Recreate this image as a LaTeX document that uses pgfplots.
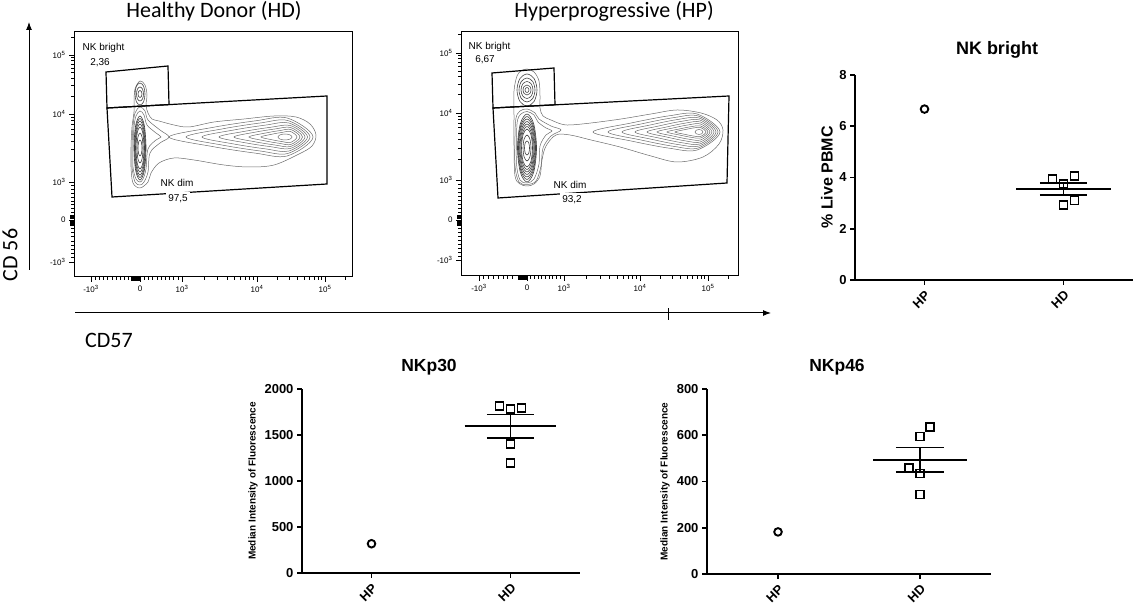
\documentclass[border=0pt]{standalone}
\usepackage{fontspec}
\setmainfont{Liberation Sans}
\newfontfamily\calibri{Carlito}
\usepackage{pgfplots}
\pgfplotsset{compat=1.18}
\usetikzlibrary{arrows.meta}

\tikzset{lab/.style={font=\fontsize{10}{12}\selectfont, inner sep=1.5pt}}
\pgfplotsset{
  flow/.style={scale only axis, enlargelimits=false, axis line style={line width=1pt},
    tick align=outside, xtick pos=bottom, ytick pos=left,
    major tick length=5pt, minor tick length=3pt,
    every tick/.style={black, line width=0.9pt},
    tick label style={font=\fontsize{8}{9.6}\selectfont},
    xticklabels={-10\textsuperscript{3},0,10\textsuperscript{3},10\textsuperscript{4},10\textsuperscript{5}},
    yticklabels={-10\textsuperscript{3},0,10\textsuperscript{3},10\textsuperscript{4},10\textsuperscript{5}},
    extra tick style={major tick length=4pt, tick style={line width=1.4pt}},
    extra x tick labels={,,,,,}, extra y tick labels={,,,,,},
    clip=true},
  cont/.style={smooth cycle, tension=0.55, draw=black!58, line width=0.5pt, no marks},
  contd/.style={smooth cycle, tension=0.55, draw=black!75, line width=0.6pt, no marks},
  gate/.style={draw=black, line width=1.2pt, no marks, line join=miter},
  scat/.style={scale only axis, enlargelimits=false, axis lines*=left,
    axis line style={line width=1.6pt}, tick align=outside, major tick length=5pt,
    every tick/.style={black, line width=1.6pt},
    xmin=-0.5, xmax=1.5, xtick={0,1}, xticklabels={HP,HD},
    xticklabel style={rotate=45, anchor=north east, font=\bfseries\fontsize{13}{15}\selectfont},
    yticklabel style={font=\bfseries\fontsize{13}{15}\selectfont},
    clip=false},
  ptc/.style={only marks, mark=o, mark size=3.8pt, line width=1.9pt, black},
  sqm/.style={only marks, mark=square, mark size=4pt, line width=1.7pt, black},
  mnl/.style={no marks, line width=1.8pt, black},
}

\begin{document}
\begin{tikzpicture}
\path[use as bounding box] (0pt,0pt) rectangle (1139pt,609pt);

% ---------------- Healthy Donor flow plot ----------------
\begin{axis}[flow, at={(74pt,332pt)}, anchor=south west, width=278pt, height=245pt,
  xmin=0, xmax=278, ymin=0, ymax=245,
  xtick={17,66,108,183,251},
  minor xtick={21,25,29,33,38,42,46,50,54,70,74,78,83,87,91,95,99,104,130.6,143.8,153.2,160.4,166.4,171.4,175.7,179.6,203.5,215.4,223.9,230.5,235.9,240.5,244.4,247.9,271.5},
  ytick={15,57,95,163,222},
  minor ytick={19.2,23.4,27.6,31.8,36,40.2,44.4,48.6,60.8,64.6,68.4,72.2,76,79.8,83.6,87.4,91.2,115.5,127.4,135.9,142.5,147.9,152.5,156.4,159.9,180.8,191.2,198.5,204.2,208.9,212.9,216.3,219.3,239.8},
  extra x ticks={57.5,59,60.5,62,63.5,65}, extra y ticks={52,53.5,55,58.5,60,61.5}]
% outer contour
\addplot[cont] coordinates {(66,196)(71,192)(73,182)(72,172)(74,164)(78,158)(85,156)(100,152)(115,150)(140,155)(170,158)(200,161)(222,160)(236,153)(242,142)(238,131)(225,123)(200,112)(175,110)(150,112)(120,117)(100,119)(85,114)(77,104)(74,95)(66,89)(59,94)(57,110)(57,130)(58,150)(60,165)(60,175)(61,188)};
\addplot[cont] coordinates {(66,170)(71,166)(74,157)(86,147)(95,140)(86,134)(76,124)(74,105)(70,95)(66,92)(61,95)(58,110)(58,130)(59,150)(61,164)};
\addplot[cont] coordinates {(66,166)(70,162)(73,152)(82,144)(87,140)(82,137)(74,128)(72,108)(69,98)(66,95)(62,98)(59,110)(59,130)(60,150)(62,161)};
% column
\addplot[contd] coordinates {(72,129)(70.3,151.7)(66,161)(61.7,151.7)(60,129)(61.7,106.3)(66,97)(70.3,106.3)};
\addplot[contd] coordinates {(71.5,129)(70,150)(66,158.5)(62,150)(60.5,129)(62,108)(66,99.5)(70,108)};
\addplot[contd] coordinates {(71,129)(69.6,148.2)(66,156)(62.4,148.2)(61,129)(62.4,109.8)(66,102)(69.6,109.8)};
\addplot[contd] coordinates {(70.5,129)(69.2,146)(66,153)(62.8,146)(61.5,129)(62.8,112)(66,105)(69.2,112)};
\addplot[contd] coordinates {(70,129)(68.8,143.9)(66,150)(63.2,143.9)(62,129)(63.2,114.1)(66,108)(68.8,114.1)};
\addplot[contd] coordinates {(69,129)(68.1,139.7)(66,144)(63.9,139.7)(63,129)(63.9,118.3)(66,114)(68.1,118.3)};
\addplot[contd] coordinates {(68,129)(67.4,134.7)(66,137)(64.6,134.7)(64,129)(64.6,123.3)(66,121)(67.4,123.3)};
% bright blob
\addplot[contd] coordinates {(71,183)(69.6,190.8)(66,194)(62.4,190.8)(61,183)(62.4,175.2)(66,172)(69.6,175.2)};
\addplot[contd] coordinates {(69.5,183)(68.5,188)(66,190)(63.5,188)(62.5,183)(63.5,178)(66,176)(68.5,178)};
\addplot[contd] coordinates {(68,183)(67.4,185.5)(66,186.5)(64.6,185.5)(64,183)(64.6,180.5)(66,179.5)(67.4,180.5)};
% tail
\addplot[cont] coordinates {(95,140)(138.2,149.5)(181.4,156.15)(213.1,159)(239,140)(213.1,121)(181.4,123.85)(138.2,130.5)};
\addplot[cont] coordinates {(112,140)(149.2,148.25)(186.4,154.03)(213.7,156.5)(236,140)(213.7,123.5)(186.4,125.97)(149.2,131.75)};
\addplot[cont] coordinates {(128,140)(159.8,147)(191.6,151.9)(214.9,154)(233.5,140)(214.9,126)(191.6,128.1)(159.8,133)};
\addplot[cont] coordinates {(145,140)(171.1,145.75)(197.2,149.78)(216.3,151.5)(231,140)(216.3,128.5)(197.2,130.22)(171.1,134.25)};
\addplot[cont] coordinates {(160,140)(180.7,144.75)(201.4,148.08)(216.6,149.5)(228.5,140)(216.6,130.5)(201.4,131.92)(180.7,135.25)};
\addplot[cont] coordinates {(175,140)(190.3,143.75)(205.6,146.38)(216.8,147.5)(226,140)(216.8,132.5)(205.6,133.62)(190.3,136.25)};
\addplot[cont] coordinates {(187,140)(197.8,142.75)(208.6,144.68)(216.5,145.5)(223,140)(216.5,134.5)(208.6,135.32)(197.8,137.25)};
\addplot[cont] coordinates {(218,140)(216,142.1)(211,143)(206,142.1)(204,140)(206,137.9)(211,137)(216,137.9)};
% gates
\addplot[gate] coordinates {(33,169)(32,205)(94,211)(95,172.4)} -- cycle;
\addplot[gate] coordinates {(33,169)(253,181)(253,93)(38,80)} -- cycle;
\node[lab, anchor=west] at (axis cs:7,229) {NK bright};
\node[lab, fill=white, inner sep=2.5pt] at (axis cs:26,214) {2,36};
\node[lab] at (axis cs:103,94) {NK dim};
\node[lab, fill=white, inner sep=2.5pt] at (axis cs:104,78) {97,5};
\end{axis}

% ---------------- Hyperprogressive flow plot ----------------
\begin{axis}[flow, at={(461pt,333pt)}, anchor=south west, width=277pt, height=244pt,
  xmin=0, xmax=277, ymin=0, ymax=244,
  xtick={18,66,103,179,247},
  minor xtick={22.8,27.6,32.4,37.2,42,46.8,51.6,69.7,73.4,77.1,80.8,84.5,88.2,91.9,95.6,99.3,125.9,139.3,148.8,156.1,162.1,167.2,171.6,175.5,199.5,211.4,219.9,226.5,231.9,236.5,240.4,243.9,267.5},
  ytick={16,56,96,163,223},
  minor ytick={20,24,28,32,36,40,44,48,60,64,68,72,76,80,84,88,92,116.2,128,136.3,142.8,148.1,152.6,156.5,159.9,181.1,191.6,199.1,204.9,209.7,213.7,217.2,220.3,241.1},
  extra x ticks={57.5,59,60.5,62,63.5,65}, extra y ticks={51,52.5,54,57.5,59,60.5}]
\addplot[cont] coordinates {(66,207)(73,204)(78,195)(79,180)(79,168)(82,160)(90,156)(100,152)(109,151)(130,153)(160,157)(190,162)(216,166)(240,163)(256,156)(262,146)(258,132)(242,119)(216,114)(190,120)(159,129)(130,136)(109,141)(95,141)(85,130)(81,116)(79,100)(73,92)(66,90)(59,92)(54,100)(53,130)(53,160)(53,185)(56,200)(60,205)};
\addplot[cont] coordinates {(66,167)(74,163)(78,157)(90,150)(100,146)(90,140)(82,128)(80,110)(75,95)(66,91.5)(58,94)(54,110)(54,140)(55,158)(59,165)};
\addplot[cont] coordinates {(66,164.5)(73,161)(77,154)(85,148)(91,145)(85,141)(79,130)(78,112)(73,97)(66,93)(59,96)(55.5,112)(55.5,140)(56.5,156)(60,162)};
% column
\addplot[contd] coordinates {(75.5,128)(72.7,152.1)(66,162)(59.3,152.1)(56.5,128)(59.3,103.9)(66,94)(72.7,103.9)};
\addplot[contd] coordinates {(75,128)(72.3,150.3)(66,159.5)(59.7,150.3)(57,128)(59.7,105.7)(66,96.5)(72.3,105.7)};
\addplot[contd] coordinates {(74.5,128)(72,148.6)(66,157)(60,148.6)(57.5,128)(60,107.4)(66,99)(72,107.4)};
\addplot[contd] coordinates {(73.8,128)(71.5,146.8)(66,154.5)(60.5,146.8)(58.2,128)(60.5,109.2)(66,101.5)(71.5,109.2)};
\addplot[contd] coordinates {(73,128)(71,145)(66,152)(61,145)(59,128)(61,111)(66,104)(71,111)};
\addplot[contd] coordinates {(72.2,128)(70.4,143.2)(66,149.5)(61.6,143.2)(59.8,128)(61.6,112.8)(66,106.5)(70.4,112.8)};
\addplot[contd] coordinates {(71.5,128)(69.9,141.5)(66,147)(62.1,141.5)(60.5,128)(62.1,114.5)(66,109)(69.9,114.5)};
\addplot[contd] coordinates {(70,128)(68.8,137.2)(66,141)(63.2,137.2)(62,128)(63.2,118.8)(66,115)(68.8,118.8)};
\addplot[contd] coordinates {(68.5,128)(67.8,133)(66,135)(64.2,133)(63.5,128)(64.2,123)(66,121)(67.8,123)};
% bright blob
\addplot[contd] coordinates {(76,186)(73.1,197.4)(66,202)(58.9,197.4)(56,186)(58.9,174.6)(66,170)(73.1,174.6)};
\addplot[contd] coordinates {(74,186)(71.7,194.5)(66,198)(60.3,194.5)(58,186)(60.3,177.5)(66,174)(71.7,177.5)};
\addplot[contd] coordinates {(72,186)(70.3,192)(66,194.5)(61.7,192)(60,186)(61.7,180)(66,177.5)(70.3,180)};
\addplot[contd] coordinates {(70,186)(68.8,189.6)(66,191)(63.2,189.6)(62,186)(63.2,182.4)(66,181)(68.8,182.4)};
\addplot[contd] coordinates {(68,186)(67.4,187.8)(66,188.5)(64.6,187.8)(64,186)(64.6,184.2)(66,183.5)(67.4,184.2)};
% tail
\addplot[cont] coordinates {(132,144)(170.1,153)(208.2,160.2)(236.1,162)(259,144)(236.1,126)(208.2,127.8)(170.1,135)};
\addplot[cont] coordinates {(147,144)(180,152)(213,158.4)(237.2,160)(257,144)(237.2,128)(213,129.6)(180,136)};
\addplot[cont] coordinates {(161,144)(189.2,151)(217.4,156.6)(238.1,158)(255,144)(238.1,130)(217.4,131.4)(189.2,137)};
\addplot[cont] coordinates {(174,144)(197.7,150)(221.4,154.8)(238.8,156)(253,144)(238.8,132)(221.4,133.2)(197.7,138)};
\addplot[cont] coordinates {(186,144)(205.5,149)(225,153)(239.3,154)(251,144)(239.3,134)(225,135)(205.5,139)};
\addplot[cont] coordinates {(196,144)(211.9,148)(227.8,151.2)(239.5,152)(249,144)(239.5,136)(227.8,136.8)(211.9,140)};
\addplot[cont] coordinates {(206,144)(218.3,147)(230.6,149.4)(239.6,150)(247,144)(239.6,138)(230.6,138.6)(218.3,141)};
\addplot[cont] coordinates {(214,144)(223.3,146.25)(232.6,148.05)(239.4,148.5)(245,144)(239.4,139.5)(232.6,139.95)(223.3,141.75)};
\addplot[cont] coordinates {(242,144)(240.8,145.8)(238,146.5)(235.2,145.8)(234,144)(235.2,142.2)(238,141.5)(240.8,142.2)};
% gates
\addplot[gate] coordinates {(32,168)(31,203)(93,208)(94,171.2)} -- cycle;
\addplot[gate] coordinates {(32,168)(268,180)(266,93)(37,78)} -- cycle;
\node[lab, anchor=west] at (axis cs:6,229) {NK bright};
\node[lab, fill=white, inner sep=2.5pt] at (axis cs:24,216) {6,67};
\node[lab] at (axis cs:109,91) {NK dim};
\node[lab, fill=white, inner sep=2.5pt] at (axis cs:111,76) {93,2};
\end{axis}

% ---------------- NK bright scatter ----------------
\begin{axis}[scat, at={(855pt,329pt)}, anchor=south west, width=278pt, height=205pt,
  ymin=0, ymax=8, ytick={0,2,4,6,8}, yticklabels={0,2,4,6,8},
  ylabel={\% Live PBMC},
  ylabel style={at={(axis description cs:-0.1007,0.5)}, anchor=center, font=\bfseries\fontsize{16}{18}\selectfont}]
\addplot[mnl] coordinates {(0.66,3.54)(1.34,3.54)};
\addplot[mnl] coordinates {(0.83,3.78)(1.17,3.78)};
\addplot[mnl] coordinates {(0.83,3.32)(1.17,3.32)};
\addplot[mnl] coordinates {(1,3.32)(1,3.78)};
\addplot[ptc] coordinates {(0,6.67)};
\addplot[sqm] coordinates {(0.92,3.95)(1,3.75)(1.08,4.06)(1,2.93)(1.08,3.10)};
\end{axis}

% ---------------- NKp30 scatter ----------------
\begin{axis}[scat, at={(302pt,36pt)}, anchor=south west, width=278pt, height=184pt,
  ymin=0, ymax=2000, ytick={0,500,1000,1500,2000}, yticklabels={0,500,1000,1500,2000},
  ylabel={Median Intensity of Fluorescence},
  ylabel style={at={(axis description cs:-0.176,0.5)}, anchor=center, font=\bfseries\fontsize{10}{12}\selectfont}]
\addplot[mnl] coordinates {(0.67,1596)(1.33,1596)};
\addplot[mnl] coordinates {(0.83,1722)(1.17,1722)};
\addplot[mnl] coordinates {(0.83,1470)(1.17,1470)};
\addplot[mnl] coordinates {(1,1470)(1,1722)};
\addplot[ptc] coordinates {(0,318)};
\addplot[sqm] coordinates {(0.92,1815)(1,1779)(1.08,1790)(1,1403)(1,1193)};
\end{axis}

% ---------------- NKp46 scatter ----------------
\begin{axis}[scat, at={(707pt,35pt)}, anchor=south west, width=284pt, height=185pt,
  ymin=0, ymax=800, ytick={0,200,400,600,800}, yticklabels={0,200,400,600,800},
  ylabel={Median Intensity of Fluorescence},
  ylabel style={at={(axis description cs:-0.148,0.5)}, anchor=center, font=\bfseries\fontsize{10}{12}\selectfont}]
\addplot[mnl] coordinates {(0.67,494)(1.33,494)};
\addplot[mnl] coordinates {(0.83,547)(1.17,547)};
\addplot[mnl] coordinates {(0.83,440)(1.17,440)};
\addplot[mnl] coordinates {(1,440)(1,547)};
\addplot[ptc] coordinates {(0,182)};
\addplot[sqm] coordinates {(1.07,635)(1,595)(0.92,459)(1,435)(1,344)};
\end{axis}

% ---------------- titles and annotations ----------------
\node[font=\calibri\fontsize{22}{26}\selectfont, anchor=base] at (214pt,591pt) {Healthy Donor (HD)};
\node[font=\calibri\fontsize{22}{26}\selectfont, anchor=base] at (614pt,591pt) {Hyperprogressive (HP)};
\node[font=\calibri\fontsize{22}{26}\selectfont, rotate=90] at (10pt,354pt) {CD 56};
\node[font=\calibri\fontsize{22}{26}\selectfont] at (109pt,269pt) {CD57};
\draw[line width=1pt, -{Latex[length=8pt,width=6pt]}] (29pt,339pt) -- (29pt,587pt);
\draw[line width=1pt, -{Latex[length=8pt,width=6pt]}] (75pt,296pt) -- (771pt,296pt);
\draw[line width=1pt] (668pt,289pt) -- (668pt,301pt);
\node[font=\bfseries\fontsize{18}{21}\selectfont] at (997pt,559pt) {NK bright};
\node[font=\bfseries\fontsize{17.5}{21}\selectfont] at (429pt,242pt) {NKp30};
\node[font=\bfseries\fontsize{17.5}{21}\selectfont] at (837pt,242pt) {NKp46};
\end{tikzpicture}
\end{document}
